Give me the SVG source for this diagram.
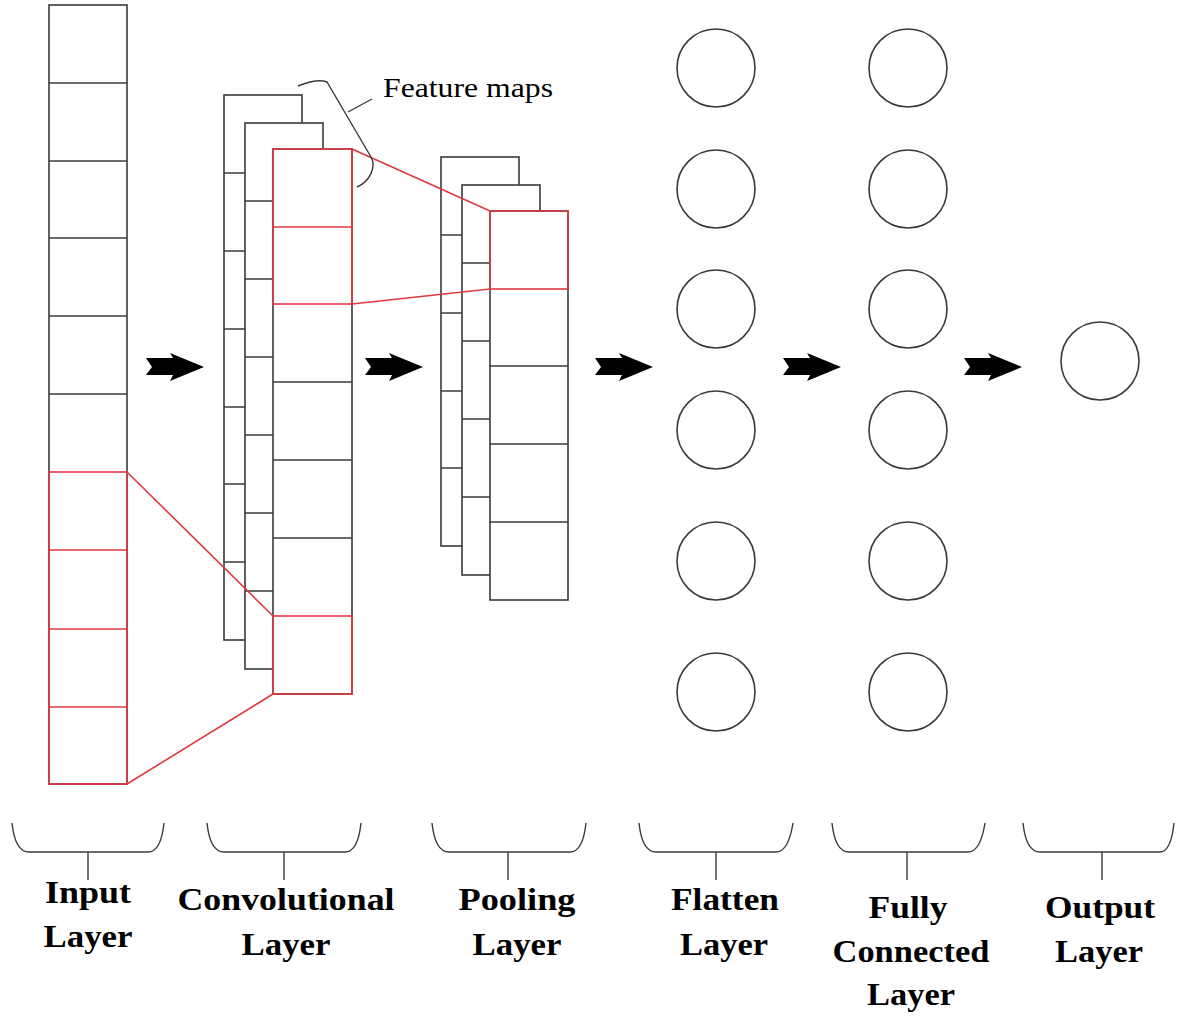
<svg xmlns="http://www.w3.org/2000/svg" width="1182" height="1017" viewBox="0 0 1182 1017">
  <style>
    .cell { fill: #ffffff; stroke: #3a3a3a; stroke-width: 1.6; }
    .hot { fill: none; stroke: #e0393f; stroke-width: 1.6; }
    .div { stroke: #3a3a3a; stroke-width: 1.6; }
    .hdiv { stroke: #e0393f; stroke-width: 1.6; }
    .node { fill: #ffffff; stroke: #3a3a3a; stroke-width: 1.6; }
    .brace { fill: none; stroke: #3a3a3a; stroke-width: 1.4; }
    .arrow { fill: #000000; }
    .label { font-family: "Liberation Serif", "Times New Roman", serif; font-weight: bold; font-size: 32px; fill: #000000; text-anchor: middle; }
    .note { font-family: "Liberation Serif", "Times New Roman", serif; font-size: 28px; fill: #000000; }
  </style>

  <rect x="0" y="0" width="1182" height="1017" fill="#ffffff"/>

  <!-- Input layer: column of 10 cells, the lower four highlighted -->
  <g id="input-layer">
    <rect class="cell" x="49" y="5" width="78" height="779"/>
    <line class="div" x1="49" y1="83" x2="127" y2="83"/>
    <line class="div" x1="49" y1="161" x2="127" y2="161"/>
    <line class="div" x1="49" y1="238" x2="127" y2="238"/>
    <line class="div" x1="49" y1="316" x2="127" y2="316"/>
    <line class="div" x1="49" y1="394" x2="127" y2="394"/>
    <rect class="hot" x="49" y="472" width="78" height="312"/>
    <line class="hdiv" x1="49" y1="550" x2="127" y2="550"/>
    <line class="hdiv" x1="49" y1="629" x2="127" y2="629"/>
    <line class="hdiv" x1="49" y1="707" x2="127" y2="707"/>
  </g>

  <!-- Convolutional layer: three stacked feature maps -->
  <g id="conv-layer">
    <rect class="cell" x="224" y="95" width="78" height="545"/>
    <line class="div" x1="224" y1="173" x2="302" y2="173"/>
    <line class="div" x1="224" y1="251" x2="302" y2="251"/>
    <line class="div" x1="224" y1="329" x2="302" y2="329"/>
    <line class="div" x1="224" y1="407" x2="302" y2="407"/>
    <line class="div" x1="224" y1="484" x2="302" y2="484"/>
    <line class="div" x1="224" y1="562" x2="302" y2="562"/>

    <rect class="cell" x="245" y="123" width="78" height="546"/>
    <line class="div" x1="245" y1="201" x2="323" y2="201"/>
    <line class="div" x1="245" y1="279" x2="323" y2="279"/>
    <line class="div" x1="245" y1="357" x2="323" y2="357"/>
    <line class="div" x1="245" y1="435" x2="323" y2="435"/>
    <line class="div" x1="245" y1="513" x2="323" y2="513"/>
    <line class="div" x1="245" y1="591" x2="323" y2="591"/>

    <rect class="cell" x="273" y="149" width="79" height="545"/>
    <line class="div" x1="273" y1="382" x2="352" y2="382"/>
    <line class="div" x1="273" y1="460" x2="352" y2="460"/>
    <line class="div" x1="273" y1="538" x2="352" y2="538"/>
    <rect class="hot" x="273" y="149" width="79" height="155"/>
    <line class="hdiv" x1="273" y1="227" x2="352" y2="227"/>
    <rect class="hot" x="273" y="616" width="79" height="78"/>
  </g>

  <!-- Pooling layer: three stacked pooled maps -->
  <g id="pool-layer">
    <rect class="cell" x="441" y="157" width="78" height="389"/>
    <line class="div" x1="441" y1="235" x2="519" y2="235"/>
    <line class="div" x1="441" y1="313" x2="519" y2="313"/>
    <line class="div" x1="441" y1="391" x2="519" y2="391"/>
    <line class="div" x1="441" y1="468" x2="519" y2="468"/>

    <rect class="cell" x="462" y="185" width="78" height="390"/>
    <line class="div" x1="462" y1="263" x2="540" y2="263"/>
    <line class="div" x1="462" y1="341" x2="540" y2="341"/>
    <line class="div" x1="462" y1="419" x2="540" y2="419"/>
    <line class="div" x1="462" y1="497" x2="540" y2="497"/>

    <rect class="cell" x="490" y="211" width="78" height="389"/>
    <line class="div" x1="490" y1="366" x2="568" y2="366"/>
    <line class="div" x1="490" y1="444" x2="568" y2="444"/>
    <line class="div" x1="490" y1="522" x2="568" y2="522"/>
    <rect class="hot" x="490" y="211" width="78" height="78"/>
  </g>

  <!-- Flatten layer -->
  <g id="flatten-layer">
    <circle class="node" cx="716" cy="68" r="39"/>
    <circle class="node" cx="716" cy="189" r="39"/>
    <circle class="node" cx="716" cy="309" r="39"/>
    <circle class="node" cx="716" cy="430" r="39"/>
    <circle class="node" cx="716" cy="561" r="39"/>
    <circle class="node" cx="716" cy="692" r="39"/>
  </g>

  <!-- Fully connected layer -->
  <g id="fc-layer">
    <circle class="node" cx="908" cy="68" r="39"/>
    <circle class="node" cx="908" cy="189" r="39"/>
    <circle class="node" cx="908" cy="309" r="39"/>
    <circle class="node" cx="908" cy="430" r="39"/>
    <circle class="node" cx="908" cy="561" r="39"/>
    <circle class="node" cx="908" cy="692" r="39"/>
  </g>

  <!-- Output layer -->
  <g id="output-layer">
    <circle class="node" cx="1100" cy="361" r="39"/>
  </g>

  <!-- Connectors: receptive-field projections and flow arrows -->
  <g id="connectors">
    <line class="hot" x1="127" y1="472" x2="273" y2="616"/>
    <line class="hot" x1="127" y1="784" x2="273" y2="694"/>
    <line class="hot" x1="352" y1="149" x2="490" y2="211"/>
    <line class="hot" x1="352" y1="304" x2="490" y2="289"/>

    <defs>
      <path id="flow" class="arrow" d="M0,-9 L27,-9 L24,-14 L58,0 L24,14 L27,8 L0,8 L6,0 Z"/>
    </defs>
    <use href="#flow" x="146" y="367"/>
    <use href="#flow" x="365" y="367"/>
    <use href="#flow" x="595" y="367"/>
    <use href="#flow" x="783" y="367"/>
    <use href="#flow" x="964" y="367"/>
  </g>

  <!-- Feature maps callout -->
  <g id="feature-maps-note">
    <path class="brace" d="M298,86 C308,82 320,79 327,82 L371,157 C376,166 371,181 357,187"/>
    <line class="brace" x1="348" y1="112" x2="372" y2="99"/>
    <text class="note" x="383" y="97" textLength="170" lengthAdjust="spacingAndGlyphs">Feature maps</text>
  </g>

  <!-- Layer braces -->
  <g id="braces">
    <path class="brace" d="M12,823 C14,842 19,852 29,852 L148,852 C157,852 162,842 164,823 M88,852 L88,880"/>
    <path class="brace" d="M207,823 C209,842 214,852 224,852 L345,852 C354,852 359,842 361,823 M284,852 L284,880"/>
    <path class="brace" d="M432,823 C434,842 439,852 449,852 L570,852 C579,852 584,842 586,823 M508,852 L508,880"/>
    <path class="brace" d="M639,823 C641,842 646,852 656,852 L776,852 C785,852 790,842 793,823 M716,852 L716,880"/>
    <path class="brace" d="M832,823 C834,842 839,852 849,852 L968,852 C977,852 982,842 985,823 M907,852 L907,880"/>
    <path class="brace" d="M1023,823 C1025,842 1030,852 1040,852 L1160,852 C1168,852 1172,842 1174,823 M1102,852 L1102,880"/>
  </g>

  <!-- Layer labels -->
  <g id="labels">
    <text class="label" x="88" y="903" textLength="86" lengthAdjust="spacingAndGlyphs">Input</text>
    <text class="label" x="88" y="947" textLength="89" lengthAdjust="spacingAndGlyphs">Layer</text>

    <text class="label" x="286" y="910" textLength="217" lengthAdjust="spacingAndGlyphs">Convolutional</text>
    <text class="label" x="286" y="955" textLength="89" lengthAdjust="spacingAndGlyphs">Layer</text>

    <text class="label" x="517" y="910" textLength="117" lengthAdjust="spacingAndGlyphs">Pooling</text>
    <text class="label" x="517" y="955" textLength="89" lengthAdjust="spacingAndGlyphs">Layer</text>

    <text class="label" x="725" y="910" textLength="108" lengthAdjust="spacingAndGlyphs">Flatten</text>
    <text class="label" x="724" y="955" textLength="88" lengthAdjust="spacingAndGlyphs">Layer</text>

    <text class="label" x="908" y="918" textLength="79" lengthAdjust="spacingAndGlyphs">Fully</text>
    <text class="label" x="911" y="962" textLength="157" lengthAdjust="spacingAndGlyphs">Connected</text>
    <text class="label" x="911" y="1005" textLength="88" lengthAdjust="spacingAndGlyphs">Layer</text>

    <text class="label" x="1100" y="918" textLength="110" lengthAdjust="spacingAndGlyphs">Output</text>
    <text class="label" x="1099" y="962" textLength="88" lengthAdjust="spacingAndGlyphs">Layer</text>
  </g>
</svg>
